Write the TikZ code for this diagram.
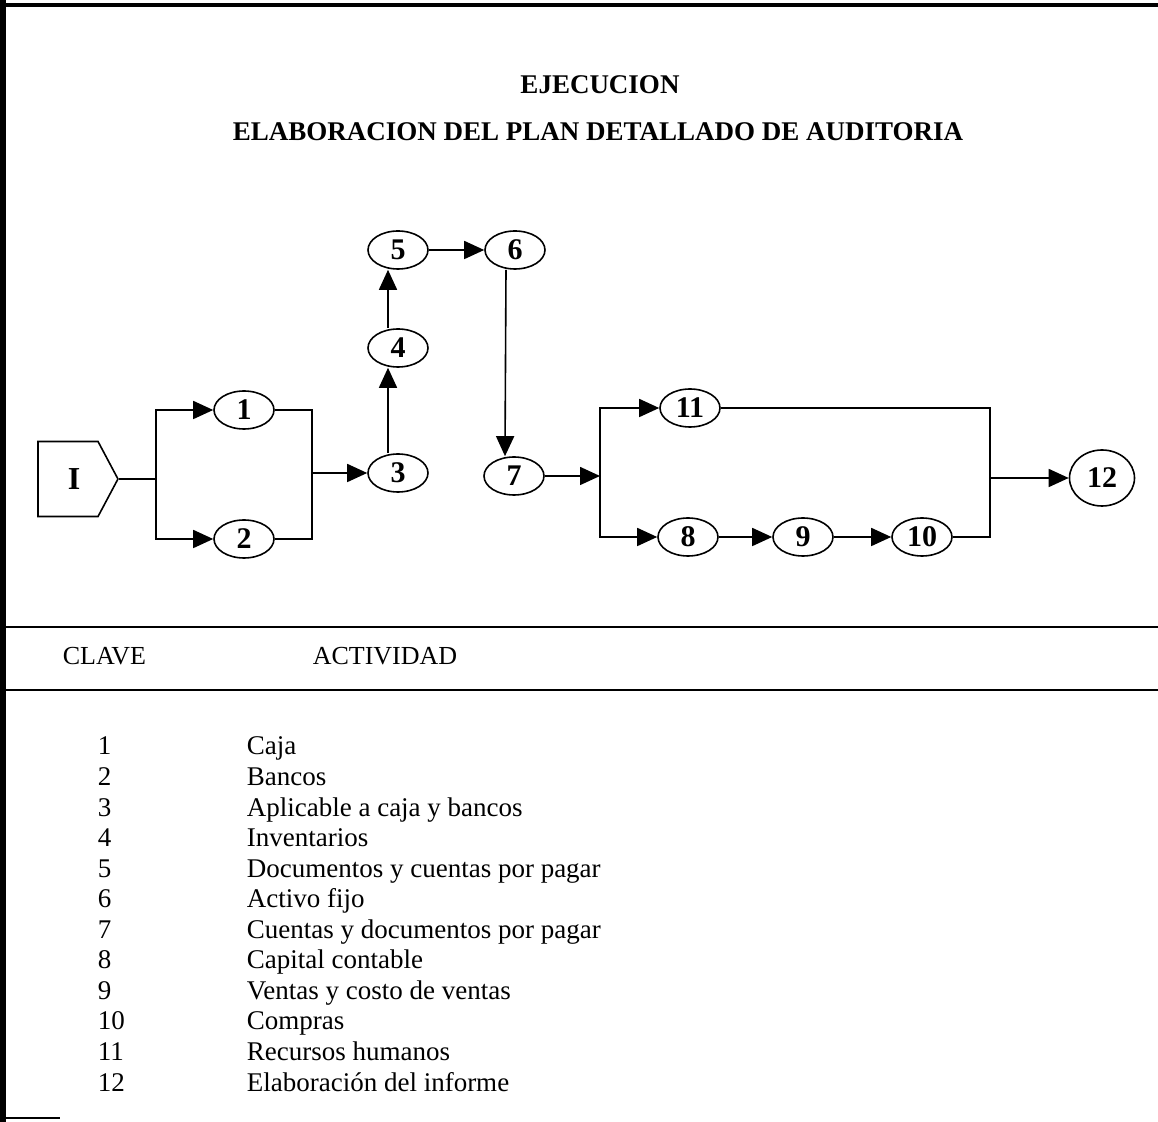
\documentclass[tikz,border=0pt]{standalone}
\usepackage{fontspec}
\setmainfont{Liberation Serif}
\usetikzlibrary{positioning,shapes.geometric,shapes.symbols,arrows.meta}

\begin{document}
\begin{tikzpicture}[x=0.5pt,y=-0.5pt,line width=0.8pt,
    act/.style={draw, ellipse, minimum width=30pt, minimum height=19pt, inner sep=0pt,
        font=\fontsize{15}{17}\selectfont\bfseries},
    flow/.style={-{Triangle[length=10pt,width=9pt]}},
    txt/.style={anchor=base west, inner sep=0pt, font=\fontsize{13.5}{15}\selectfont}]

    \useasboundingbox (0,0) rectangle (1158,1122);

    % page edges
    \draw[line width=2pt] (0,5) -- (1158,5);
    \draw[line width=3.5pt] (2,0) -- (2,1122);
    \draw (0,1118) -- (60,1118);

    % titles
    \node[font=\fontsize{13.5}{15}\selectfont\bfseries] (title) at (600,85) {EJECUCION};
    \node[font=\fontsize{13.5}{15}\selectfont\bfseries] (subtitle) at (598,132) {ELABORACION DEL PLAN DETALLADO DE AUDITORIA};

    % network
    \node[draw, signal, signal to=east, signal pointer angle=124, minimum width=40pt,
        minimum height=37.5pt, inner sep=0pt, font=\fontsize{16}{18}\selectfont\bfseries] (start) at (68,479) {\hspace{6pt}I};

    \node[act] (n1) at (244,410) {1};
    \node[act] (n2) at (244,539) {2};
    \node[act] (n3) at (398,473) {3};
    \node[act] (n4) at (398,348) {4};
    \node[act] (n5) at (398,250) {5};
    \node[act] (n6) at (515,250) {6};
    \node[act] (n7) at (514,476) {7};
    \node[act] (n11) at (690,408) {11};
    \node[act] (n8) at (688,537) {8};
    \node[act] (n9) at (803,537) {9};
    \node[act] (n10) at (922,537) {10};
    \node[act, minimum width=32.5pt, minimum height=28pt] (n12) at (1102,478) {12};

    \coordinate (split) at (156,479);
    \coordinate (join) at (312,473);
    \coordinate (fork) at (600,476);
    \coordinate (merge) at (990,478);

    \draw (start.east) -- (split);
    \draw[flow] (split) |- (n1.west);
    \draw[flow] (split) |- (n2.west);
    \draw (n1.east) -| (join);
    \draw (n2.east) -| (join);
    \draw[flow] (join) -- (n3.west);
    \draw[flow] ([xshift=-5pt]n3.north) -- ([xshift=-5pt]n4.south);
    \draw[flow] ([xshift=-5pt]n4.north) -- ([xshift=-5pt]n5.south);
    \draw[flow] (n5) -- (n6);
    \draw[flow] ([xshift=-4.5pt]n6.south) -- ([xshift=-4.5pt]n7.north);
    \draw[flow] (n7) -- (fork);
    \draw[flow] (fork) |- (n11.west);
    \draw[flow] (fork) |- (n8.west);
    \draw[flow] (n8) -- (n9);
    \draw[flow] (n9) -- (n10);
    \draw (n11.east) -| (merge);
    \draw (n10.east) -| (merge);
    \draw[flow] (merge) -- (n12);

    % table
    \draw[line width=1.2pt] (0,627) -- (1158,627);
    \draw[line width=1.2pt] (0,690) -- (1158,690);
    \node[txt, font=\fontsize{13}{15}\selectfont] (clave) at (62,665) {CLAVE};
    \node[txt, font=\fontsize{13}{15}\selectfont] (actividad) at (312,665) {ACTIVIDAD};

    \foreach \k/\what [count=\i from 0] in {1/Caja, 2/Bancos, 3/Aplicable a caja y bancos,
        4/Inventarios, 5/Documentos y cuentas por pagar, 6/Activo fijo,
        7/Cuentas y documentos por pagar, 8/Capital contable, 9/Ventas y costo de ventas,
        10/Compras, 11/Recursos humanos, 12/Elaboración del informe}
    {
        \node[txt] (key\k) at (97,755+30.55*\i) {\k};
        \node[txt] (item\k) at (246,755+30.55*\i) {\what};
    }

\end{tikzpicture}
\end{document}
